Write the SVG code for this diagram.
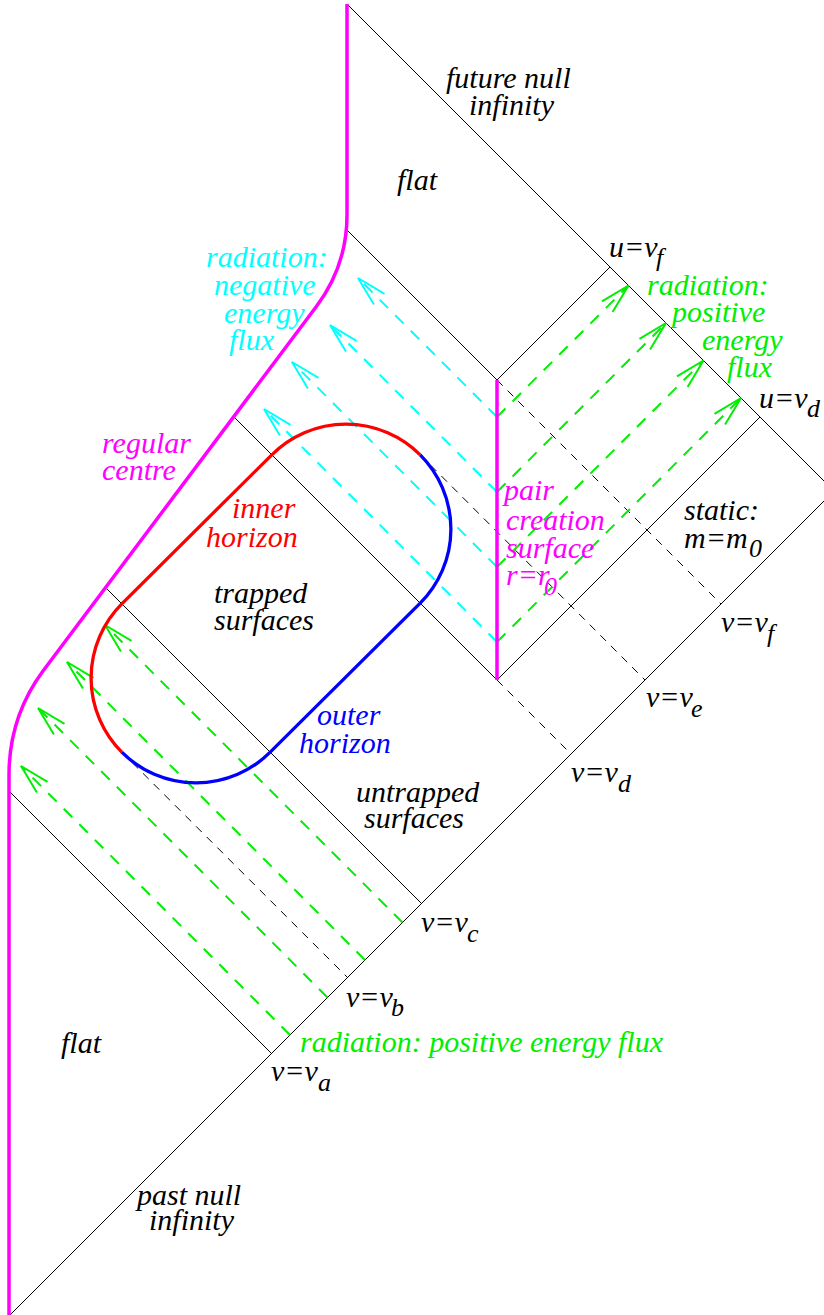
<svg xmlns="http://www.w3.org/2000/svg" width="824" height="1315" viewBox="0 0 824 1315">
<style>
.bg{fill:#ffffff}
.ln{fill:none;stroke:#000;stroke-width:1}
.dk{fill:none;stroke:#000;stroke-width:1;stroke-dasharray:8 7}
.mg{fill:none;stroke:#ff00ff;stroke-width:3.5}
.rd{fill:none;stroke:#ff0000;stroke-width:3.3}
.bl{fill:none;stroke:#0000ff;stroke-width:3.3}
.gr{fill:none;stroke:#00ee00;stroke-width:2;stroke-dasharray:12 10;marker-end:url(#ag)}
.cy{fill:none;stroke:#00ffff;stroke-width:2;stroke-dasharray:12 10;marker-end:url(#ac)}
text{font-family:"Liberation Serif","Times New Roman",serif;font-style:italic;font-size:30px}
.s{font-size:26px}
.tk{fill:#000}
.tg{fill:#00ee00}
.tc{fill:#00ffff}
.tm{fill:#ff00ff}
.tr{fill:#ff0000}
.tb{fill:#0000ff}
</style>
<defs>
<marker id="ag" markerUnits="userSpaceOnUse" markerWidth="40" markerHeight="40" refX="0" refY="0" orient="auto" overflow="visible" viewBox="-40 -20 40 40">
<path d="M-30,-7.5 L0,0 L-30,7.5" fill="none" stroke="#00ee00" stroke-width="2"/>
</marker>
<marker id="ac" markerUnits="userSpaceOnUse" markerWidth="40" markerHeight="40" refX="0" refY="0" orient="auto" overflow="visible" viewBox="-40 -20 40 40">
<path d="M-30,-7.5 L0,0 L-30,7.5" fill="none" stroke="#00ffff" stroke-width="2"/>
</marker>
</defs>
<rect class="bg" x="0" y="0" width="824" height="1315"/>

<g id="connectors">
<line class="ln" x1="347" y1="4" x2="824" y2="481"/>
<line class="ln" x1="9" y1="1316" x2="824" y2="501"/>
<line class="ln" x1="497" y1="380" x2="610" y2="267"/>
<line class="ln" x1="497" y1="680" x2="760" y2="417"/>
<line class="ln" x1="346.5" y1="229.5" x2="497" y2="380"/>
<line class="dk" x1="497" y1="380" x2="721" y2="604"/>
<line class="ln" x1="233.9" y1="416.9" x2="497" y2="680"/>
<line class="dk" x1="497" y1="680" x2="571" y2="754"/>
<line class="dk" x1="420.2" y1="454.8" x2="645" y2="680"/>
<line class="ln" x1="105.7" y1="587.7" x2="421.5" y2="903.5"/>
<line class="dk" x1="121.8" y1="752.2" x2="347.5" y2="977.5"/>
<line class="ln" x1="9" y1="791" x2="271.5" y2="1053.5"/>
</g>

<g id="radiation-negative">
<path class="cy" d="M497,417 L358,278"/>
<path class="cy" d="M497,492 L330,325"/>
<path class="cy" d="M497,567 L292,362"/>
<path class="cy" d="M497,642 L264,409"/>
</g>
<g id="radiation-positive-out">
<path class="gr" d="M497,417 L628.5,285.5"/>
<path class="gr" d="M497,492 L666,323"/>
<path class="gr" d="M497,567 L703.5,360.5"/>
<path class="gr" d="M497,642 L741,398"/>
</g>
<g id="radiation-positive-in">
<path class="gr" d="M402.5,922.5 L105,625"/>
<path class="gr" d="M365,960 L67,662"/>
<path class="gr" d="M327.5,997.5 L38,708"/>
<path class="gr" d="M290,1035 L21,766"/>
</g>

<g id="regular-centre">
<path class="mg" d="M347,4 L347,215 Q347,266 316,307 L43,671 Q9,717 9,775 L9,1315"/>
</g>
<g id="pair-creation-surface">
<line class="mg" x1="497" y1="380" x2="497" y2="680"/>
</g>
<g id="inner-horizon">
<path class="rd" d="M121.8,752.2 A105,105 0 0 1 121.8,603.8 L271.8,454.8 A105,105 0 0 1 420.2,454.8"/>
</g>
<g id="outer-horizon">
<path class="bl" d="M420.2,454.8 A105,105 0 0 1 420.2,603.2 L270.2,752.2 A105,105 0 0 1 121.8,752.2"/>
</g>

<g id="labels">
<text class="tk" x="446" y="88">future null<tspan x="469" dy="27">infinity</tspan></text>
<text class="tk" x="397" y="190">flat</text>
<text class="tk" x="609" y="257">u=v<tspan class="s" x="656" dy="9">f</tspan></text>
<text class="tk" x="759" y="408">u=v<tspan class="s" x="807" dy="9">d</tspan></text>
<text class="tk" x="684" y="520">static:<tspan x="684" dy="28">m=m</tspan><tspan class="s" x="749" dy="9">0</tspan></text>
<text class="tk" x="721" y="632">v=v<tspan class="s" x="767" dy="10">f</tspan></text>
<text class="tk" x="646" y="707">v=v<tspan class="s" x="691" dy="10">e</tspan></text>
<text class="tk" x="571" y="782">v=v<tspan class="s" x="618" dy="10">d</tspan></text>
<text class="tk" x="214" y="603">trapped<tspan x="214" dy="27">surfaces</tspan></text>
<text class="tk" x="356" y="802">untrapped<tspan x="364" dy="26">surfaces</tspan></text>
<text class="tk" x="421" y="932">v=v<tspan class="s" x="467" dy="10">c</tspan></text>
<text class="tk" x="346" y="1007">v=v<tspan class="s" x="391" dy="9">b</tspan></text>
<text class="tk" x="61" y="1053">flat</text>
<text class="tk" x="271" y="1081">v=v<tspan class="s" x="318" dy="10">a</tspan></text>
<text class="tk" x="137" y="1205">past null<tspan x="149" dy="25">infinity</tspan></text>
<text class="tc" x="206" y="267">radiation:<tspan x="214" dy="28">negative</tspan><tspan x="224" dy="28">energy</tspan><tspan x="229" dy="27">flux</tspan></text>
<text class="tg" x="647" y="295">radiation:<tspan x="672" dy="27">positive</tspan><tspan x="702" dy="28">energy</tspan><tspan x="727" dy="27">flux</tspan></text>
<text class="tg" x="300" y="1052">radiation: positive energy flux</text>
<text class="tm" x="102" y="453">regular<tspan x="102" dy="27">centre</tspan></text>
<text class="tm" x="504" y="500">pair<tspan x="506" dy="30">creation</tspan><tspan x="506" dy="28">surface</tspan><tspan x="506" dy="27">r=r</tspan><tspan class="s" x="544" dy="10">0</tspan></text>
<text class="tr" x="232" y="518">inner<tspan x="206" dy="29">horizon</tspan></text>
<text class="tb" x="317" y="725">outer<tspan x="299" dy="28">horizon</tspan></text>
</g>
</svg>
